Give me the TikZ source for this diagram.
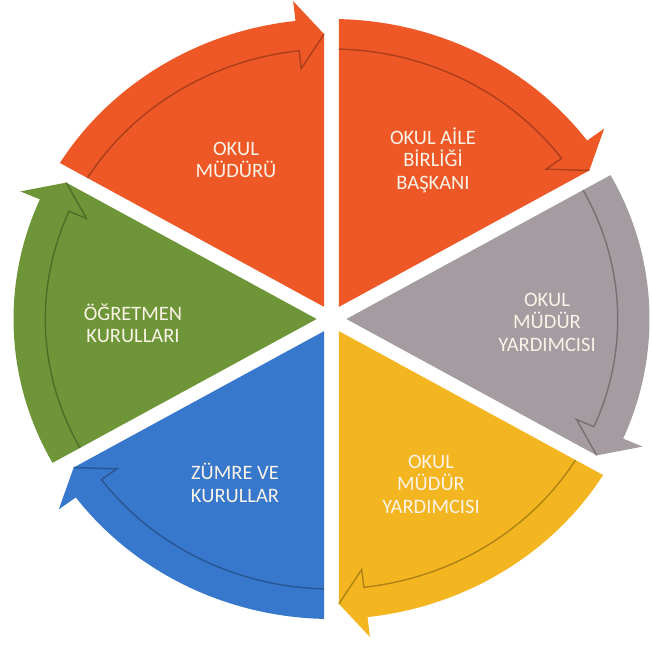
\documentclass[tikz,border=0pt]{standalone}
\usepackage{fontspec}
\setmainfont{Carlito}
\usepackage{tikz}

\definecolor{segred}{RGB}{238,88,38}
\definecolor{seggray}{RGB}{164,156,160}
\definecolor{segyellow}{RGB}{244,182,32}
\definecolor{segblue}{RGB}{55,120,205}
\definecolor{seggreen}{RGB}{110,150,56}
\definecolor{segtextcol}{RGB}{250,243,232}

% one slice of the cycle, arrow head at its clockwise end
\newcommand{\cyclesegment}[2]{%
	\begin{scope}[rotate=#1]
		\fill [#2] (30:14pt) -- (284.9pt,7pt) -- (6.5:320pt) -- (6.5:300pt) arc [start angle=6.5, end angle=58.66, radius=300pt] -- cycle;
		\draw [#2!60!black, opacity=0.7, line width=1.4pt] (58.5:270pt) arc [start angle=58.5, end angle=6.5, radius=270pt] -- (6.5:252pt) -- (284.9pt,7pt);
	\end{scope}}

\begin{document}
\begin{tikzpicture}[segtext/.style={text=segtextcol, align=center, font=\fontsize{20.5}{22.5}\selectfont}]
		%				\draw [help lines] (-330pt,-330pt) grid [step=50pt] (320pt,320pt);
		\useasboundingbox (-331.5pt,-328pt) rectangle (320.5pt,319pt);
		\begin{scope}[xscale=1.06]
			\cyclesegment{90}{segred}
			\cyclesegment{30}{segred}
			\cyclesegment{-30}{seggray}
			\cyclesegment{-90}{segyellow}
			\cyclesegment{-150}{segblue}
			\cyclesegment{150}{seggreen}
		\end{scope}
		\node [segtext] (principal) at (-95.5pt,159pt) {OKUL\\MÜDÜRÜ};
		\node [segtext] (parents) at (101.5pt,159pt) {OKUL AİLE\\BİRLİĞİ\\BAŞKANI};
		\node [segtext] (viceright) at (215.5pt,-3pt) {OKUL\\MÜDÜR\\YARDIMCISI};
		\node [segtext] (vicebottom) at (99.5pt,-165pt) {OKUL\\MÜDÜR\\YARDIMCISI};
		\node [segtext] (zumre) at (-96.5pt,-164pt) {ZÜMRE VE\\KURULLAR};
		\node [segtext] (teachers) at (-198.5pt,-4pt) {ÖĞRETMEN\\KURULLARI};
	\end{tikzpicture}
\end{document}
